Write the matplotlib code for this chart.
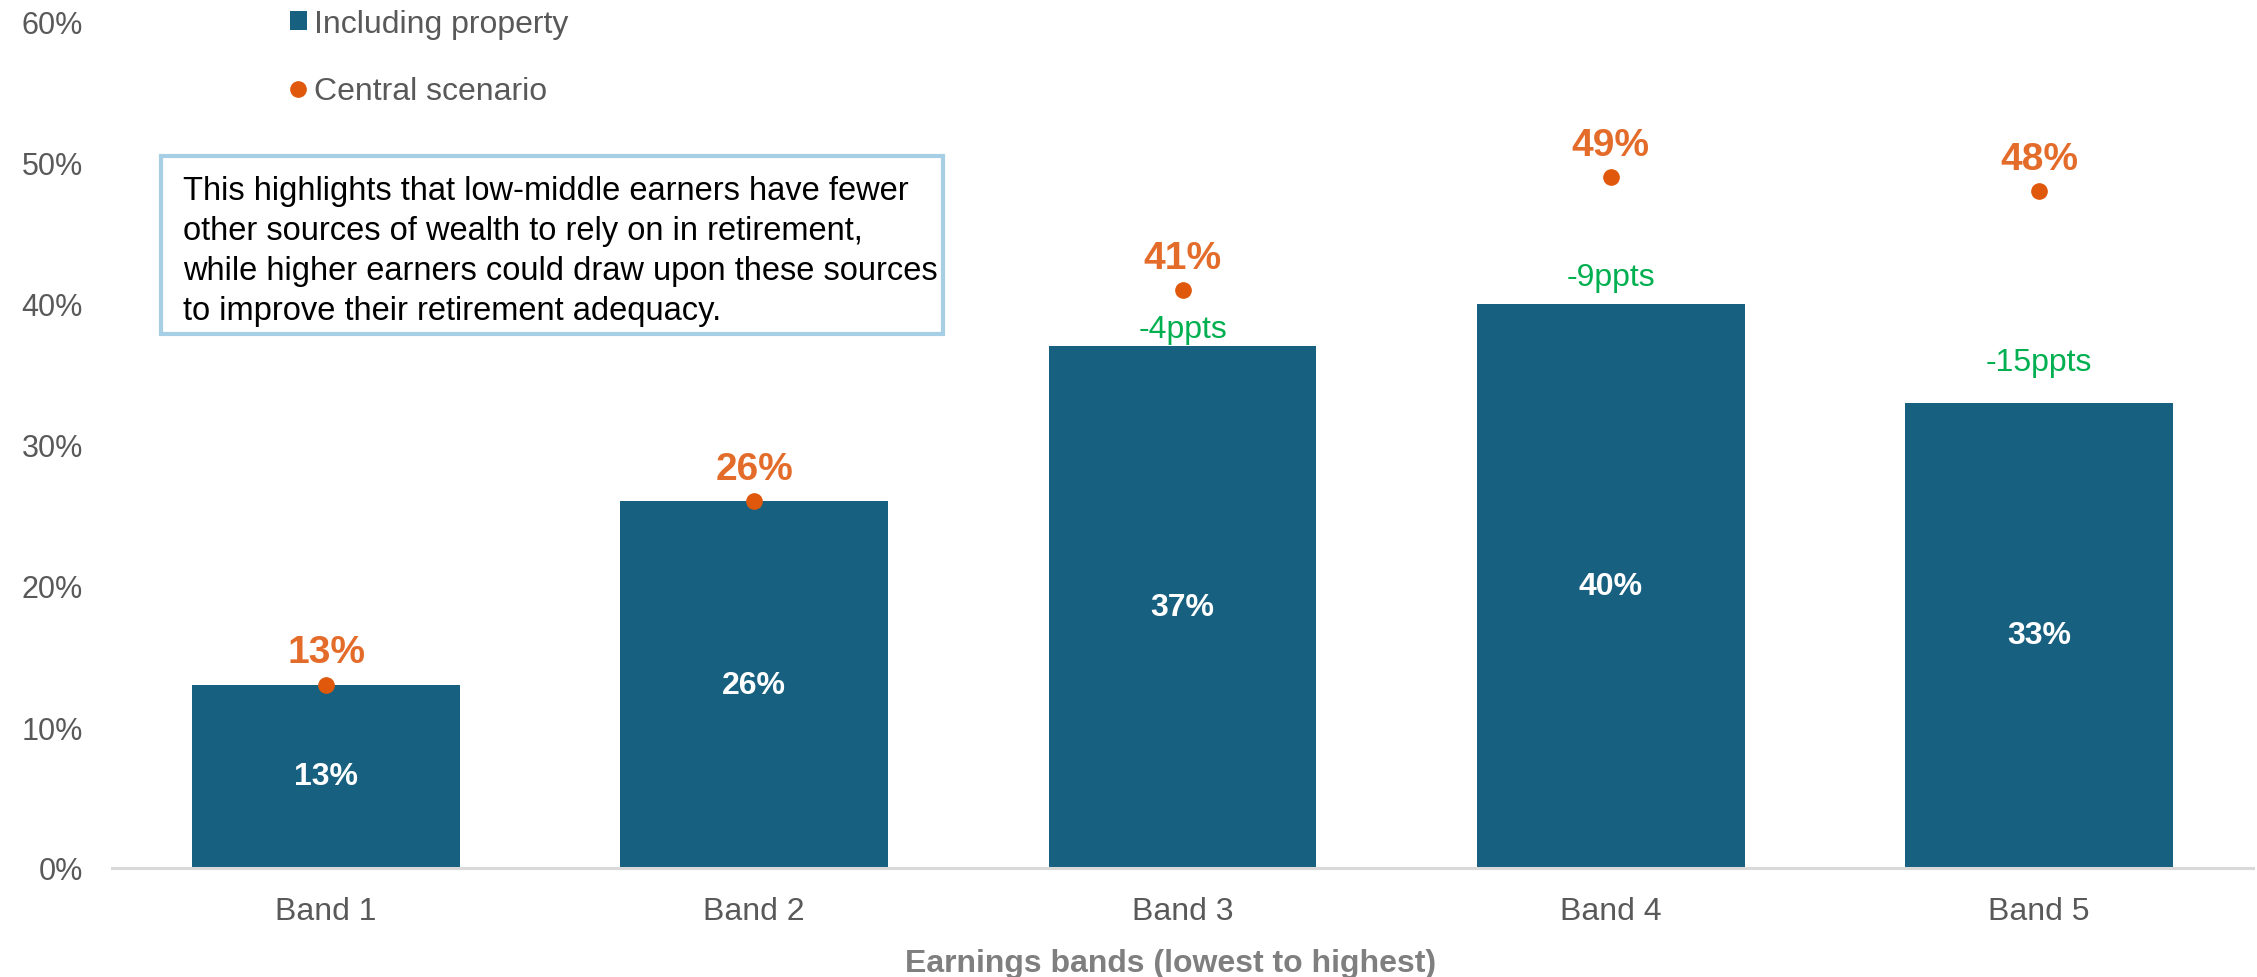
import matplotlib
matplotlib.use("Agg")
import matplotlib.pyplot as plt
from matplotlib.patches import Rectangle, Patch
from matplotlib.lines import Line2D
from matplotlib.ticker import FuncFormatter

plt.rcParams['font.family'] = ['Liberation Sans', 'DejaVu Sans']

# Replacement rates by earnings band (%)
bands = ["Band 1", "Band 2", "Band 3", "Band 4", "Band 5"]
including_property = [13, 26, 37, 40, 33]
central_scenario = [13, 26, 41, 49, 48]
# bands where the gap to the central scenario is called out
gap_bands = [2, 3, 4]

note = ("This highlights that low-middle earners have fewer\n"
        "other sources of wealth to rely on in retirement,\n"
        "while higher earners could draw upon these sources\n"
        "to improve their retirement adequacy.")

BAR_COLOR = '#17607F'
DOT_COLOR = '#E0580C'
DOT_TEXT = '#E46C2A'
GAP_GREEN = '#00B050'
GREY_TEXT = '#595959'

W, H = 2257, 978
fig = plt.figure(figsize=(W / 100, H / 100), dpi=100)
ax = fig.add_axes([112 / W, 1 - 869 / H, (2253 - 112) / W, (869 - 23) / H])

x = list(range(len(bands)))
bars = ax.bar(x, including_property, width=0.625, color=BAR_COLOR, zorder=2)
ax.plot(x, central_scenario, linestyle='none', marker='o', markersize=11,
        color=DOT_COLOR, zorder=3)

# white value labels inside the bars
ax.bar_label(bars, labels=[f'{v}%' for v in including_property],
             label_type='center', color='white', fontweight='bold', fontsize=23)

# central scenario values above the dots
for i, v in enumerate(central_scenario):
    ax.annotate(f'{v}%', (i, v), xytext=(0, 16), textcoords='offset points',
                ha='center', va='baseline', color=DOT_TEXT,
                fontweight='bold', fontsize=28)

# gap between central scenario and including property
gap_offsets = [7, 13.5, 23.5]
for off, i in zip(gap_offsets, gap_bands):
    gap = including_property[i] - central_scenario[i]
    ax.annotate(f'{gap}ppts', (i, including_property[i]), xytext=(0, off),
                textcoords='offset points', ha='center', va='baseline',
                color=GAP_GREEN, fontsize=23)

ax.set_xlim(-0.5, len(bands) - 0.5)
ax.set_ylim(0, 60)
ax.set_yticks(range(0, 61, 10))
ax.yaxis.set_major_formatter(FuncFormatter(lambda v, p: f'{v:.0f}%'))
ax.set_xticks(x)
ax.set_xticklabels(bands)
ax.tick_params(axis='y', length=0, pad=21, labelsize=22, labelcolor=GREY_TEXT)
ax.tick_params(axis='x', length=0, pad=20, labelsize=23, labelcolor=GREY_TEXT)
for side in ['top', 'right', 'left']:
    ax.spines[side].set_visible(False)
ax.spines['bottom'].set_color('#D9D9D9')
ax.spines['bottom'].set_linewidth(2.2)

ax.set_xlabel('Earnings bands (lowest to highest)', fontsize=23,
              fontweight='bold', color='#7F7F7F')
ax.xaxis.set_label_coords(0.4945, -0.094)

handles = [Patch(facecolor=BAR_COLOR, label='Including property'),
           Line2D([], [], linestyle='none', marker='o', markersize=11,
                  color=DOT_COLOR, label='Central scenario')]
leg = ax.legend(handles=handles, loc='upper left',
                bbox_to_anchor=(290 / W, 1 - 10 / H), bbox_transform=fig.transFigure,
                frameon=False, fontsize=23, handlelength=0.53, handleheight=0.53,
                handletextpad=0.22, labelspacing=1.17, borderpad=0, borderaxespad=0)
for t in leg.get_texts():
    t.set_color(GREY_TEXT)

# callout box
fig.patches.append(Rectangle((161 / W, 1 - 335 / H), (943 - 161) / W, (335 - 157) / H,
                             transform=fig.transFigure, facecolor='white',
                             edgecolor='#A6CFE6', linewidth=3, zorder=5))
fig.text(183 / W, 1 - 176 / H, note, ha='left', va='top', fontsize=23.5,
         color='black', linespacing=1.37, zorder=6)

fig.savefig('out.png', dpi=100)
